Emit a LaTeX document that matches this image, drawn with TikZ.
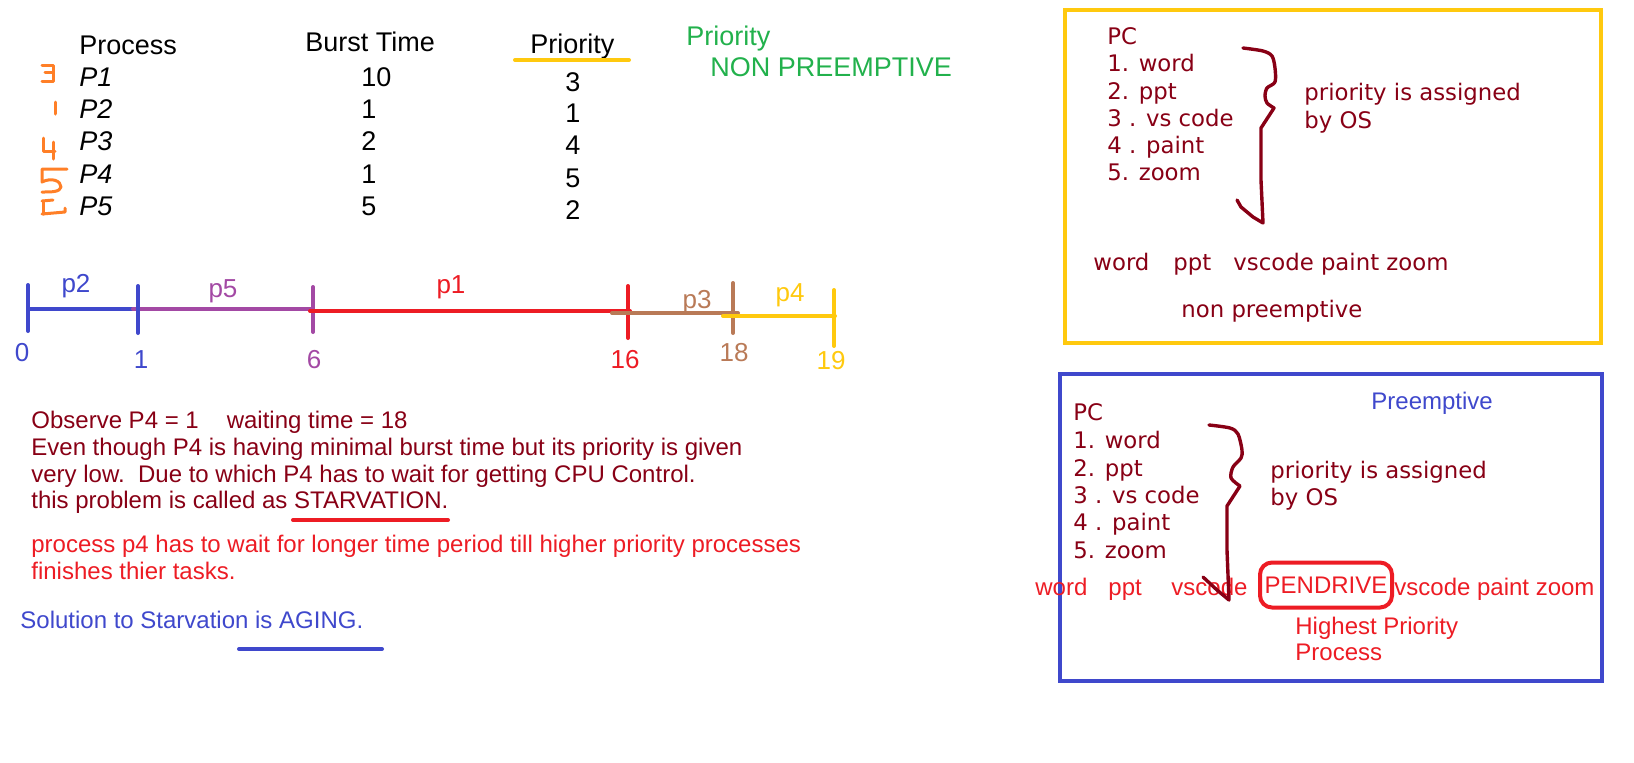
\documentclass[tikz,border=0pt]{standalone}
\usepackage{fontspec}
\setmainfont{Liberation Sans}
\newfontfamily\verd{DejaVu Sans}
\definecolor{pblue}{HTML}{3F48CC}
\definecolor{pred}{HTML}{ED1C24}
\definecolor{pdark}{HTML}{880015}
\definecolor{pyellow}{HTML}{FFC90E}
\definecolor{pgreen}{HTML}{22B14C}
\definecolor{porange}{HTML}{FF7F27}
\definecolor{ppurple}{HTML}{A349A4}
\definecolor{pbrown}{HTML}{B97A57}
\tikzset{
  tab/.style={font=\fontsize{13.5}{16}\selectfont, inner sep=0pt, text height=9.7pt, text depth=0pt},
  big/.style={font=\fontsize{13}{15}\selectfont, inner sep=0pt, text height=9.3pt, text depth=0pt},
  note/.style={font=\fontsize{12}{14}\selectfont, inner sep=0pt, text height=8.6pt, text depth=0pt, anchor=west},
  pc/.style={font=\verd\fontsize{11.4}{13}\selectfont, text=pdark, inner sep=0pt, text height=8.3pt, text depth=0pt, anchor=west},
  seg/.style={line width=2pt, line cap=round},
  hand/.style={porange, line width=1.5pt, line cap=round, line join=round},
  brace/.style={pdark, line width=1.7pt, line cap=round, line join=round}
}
\begin{document}
\begin{tikzpicture}[x=0.5pt, y=-0.5pt]
\useasboundingbox (0,0) rectangle (1634,762);

\path (79,45) node[tab, anchor=west] (proc) {Process};
\path (305,42) node[tab, anchor=west] (burst) {Burst Time};
\path (530,44) node[tab, anchor=west] (prio) {Priority};
\draw [pyellow, line width=2pt, line cap=round] (515,60) -- (629,60);
\foreach \p/\b/\r/\y/\z in {1/10/3/77/82, 2/1/1/109/113, 3/2/4/141/145, 4/1/5/174/178, 5/5/2/206/210}
{
	\path (79,\y) node[tab, anchor=west] (p\p) {\itshape P\p};
	\path (361,\y) node[tab, anchor=west] (b\p) {\b};
	\path (573,\z) node[tab] (r\p) {\r};
}
\path (686,36) node[tab, anchor=west, text=pgreen] (ptitle) {Priority};
\path (710,67) node[tab, anchor=west, text=pgreen] (nonpre) {NON PREEMPTIVE};

\draw [hand] (42,65) -- (53,65) -- (53,81) -- (42,81);
\draw [hand] (45,72) -- (53,72);
\draw [hand] (55,102) -- (55,114);
\draw [hand] (43,138) -- (43,151) -- (55,151);
\draw [hand] (53,142) -- (53,159);
\draw [hand] (67,169) -- (42,169) -- (42,182) .. controls (52,177) and (61,181) .. (61,187) .. controls (60,192) and (52,192) .. (42,192);
\draw [hand] (42,201) -- (53,200);
\draw [hand] (43,201) -- (43,214);
\draw [hand] (42,214) -- (65,212) -- (65,208);

\foreach \col/\xa/\xb/\yl/\xt/\ta/\tb in {pblue/28/138/309/28/285/331, ppurple/133/312/309/313/287/332, pred/310/630/311/628/286/338, pbrown/612/738/313/733/283/333, pyellow/723/835/316/834/290/346}
{
	\draw [seg, \col] (\xa,\yl) -- (\xb,\yl);
	\draw [seg, \col] (\xt,\ta) -- (\xt,\tb);
}
\draw [seg, pblue] (138,286) -- (138,333);
\foreach \lab/\col/\x/\y in {p2/pblue/76/283, p5/ppurple/223/288, p1/pred/451/284, p3/pbrown/697/299, p4/pyellow/790/292}
	\path (\x,\y) node[big, text=\col] (\lab) {\lab};
\foreach \n/\col/\x/\y in {0/pblue/22/352, 1/pblue/141/359, 6/ppurple/314/359, 16/pred/625/359, 18/pbrown/734/352, 19/pyellow/831/360}
	\path (\x,\y) node[big, text=\col] (t\n) {\n};

\path (31,420) node[note, text=pdark] (obs) {Observe P4 = 1\hspace{14pt}waiting time = 18};
\path (31,447) node[note, text=pdark] (even) {Even though P4 is having minimal burst time but its priority is given};
\path (31,474) node[note, text=pdark] (low) {very low.\ \ Due to which P4 has to wait for getting CPU Control.};
\path (31,500) node[note, text=pdark] (starv) {this problem is called as STARVATION.};
\draw [pred, line width=2pt, line cap=round] (293,520) -- (448,520);
\path (31,544) node[note, text=pred] (wait) {process p4 has to wait for longer time period till higher priority processes};
\path (31,571) node[note, text=pred] (fin) {finishes thier tasks.};
\path (20,620) node[note, text=pblue] (sol) {Solution to Starvation is AGING.};
\draw [pblue, line width=2pt, line cap=round] (239,649) -- (382,649);

\draw [pyellow, line width=2.25pt] (1065,10) rectangle (1601,343);
\path (1107,36) node[pc] (pca) {PC};
\foreach \i/\txt/\y in {1/1. word/63, 2/2. ppt/91, 3/3 . vs code/118, 4/4 . paint/145, 5/5. zoom/172}
	\path (1107,\y) node[pc] (appa\i) {\txt};
\path (1304,92) node[pc] (assigna) {priority is assigned};
\path (1304,120) node[pc] (byosa) {by OS};
\draw [brace] plot[smooth, tension=0.5] coordinates {(1243,48) (1263,51) (1272,56) (1275,68) (1275,82) (1267,88) (1265,96) (1267,103) (1274,108)} -- (1261,128) -- (1261,180) -- (1263,223) -- (1253,217) -- (1241,207) -- (1237,200);
\path (1093,262) node[pc] (worda) {word};
\path (1173,262) node[pc] (ppta) {ppt};
\path (1233,262) node[pc] (resta) {vscode paint zoom};
\path (1181,309) node[pc] (nonp) {non preemptive};

\draw [pblue, line width=2.25pt] (1060,374) rectangle (1602,681);
\path (1371,401) node[note, text=pblue] (pre) {Preemptive};
\path (1073,412) node[pc] (pcb) {PC};
\foreach \i/\txt/\y in {1/1. word/440, 2/2. ppt/468, 3/3 . vs code/495, 4/4 . paint/522, 5/5. zoom/550}
	\path (1073,\y) node[pc] (appb\i) {\txt};
\path (1270,470) node[pc] (assignb) {priority is assigned};
\path (1270,497) node[pc] (byosb) {by OS};
\path (1035,587) node[note, text=pred] (wordb) {word};
\path (1108,587) node[note, text=pred] (pptb) {ppt};
\path (1171,587) node[note, text=pred] (vsb) {vscode};
\path (1326,585) node[note, anchor=center, text=pred, draw=pred, line width=2pt, rounded corners=6pt, minimum width=66pt, minimum height=22.5pt] (pen) {PENDRIVE};
\path (1394,587) node[note, text=pred] (restb) {vscode paint zoom};
\path (1295,626) node[note, text=pred] (high) {Highest Priority};
\path (1295,652) node[note, text=pred] (hproc) {Process};
\draw [brace] plot[smooth, tension=0.5] coordinates {(1209,425) (1230,428) (1238,434) (1242,450) (1241,458) (1233,467) (1231,478) (1240,486)} -- (1227,506) -- (1227,550) -- (1229,600) -- (1217,590) -- (1203,577);

\end{tikzpicture}
\end{document}
